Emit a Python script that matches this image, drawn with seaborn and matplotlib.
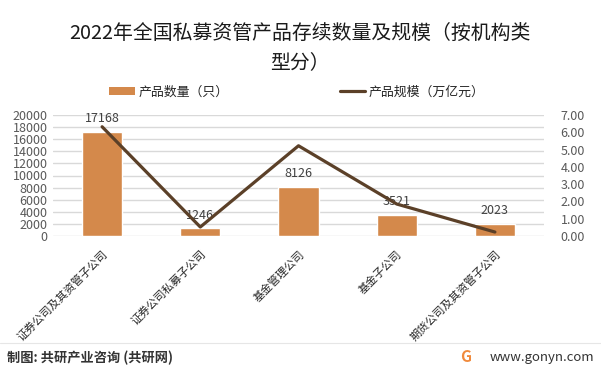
import matplotlib
matplotlib.use("Agg")
import matplotlib.pyplot as plt
import seaborn as sns
import pandas as pd
from matplotlib.lines import Line2D
from matplotlib.patches import Patch

categories = ["证券公司及其资管子公司", "证券公司私募子公司", "基金管理公司", "基金子公司", "期货公司及其资管子公司"]
counts = [17168, 1246, 8126, 3521, 2023]
scale = [6.32, 0.52, 5.22, 1.85, 0.23]
left_ticks = [0, 2000, 4000, 6000, 8000, 10000, 12000, 14000, 16000, 18000, 20000]
right_ticks = [0, 1, 2, 3, 4, 5, 6, 7]

sns.set_theme(style="white")
plt.rcParams["font.family"] = ["Noto Sans CJK SC", "DejaVu Sans"]

df = pd.DataFrame({"cat": categories, "count": counts, "scale": scale})

bar_color = "#D4894B"
line_color = "#5B4028"
text_color = "#404040"
tick_color = "#595959"

fig = plt.figure(figsize=(6.01, 3.75), dpi=100)
ax = fig.add_axes([53/601, 1-236/375, (544-53)/601, (236-115)/375])

sns.barplot(data=df, x="cat", y="count", color=bar_color, width=0.41, ax=ax, saturation=1)
ax.set_ylim(0, 20000)
ax.set_xlim(-0.5, len(categories)-0.5)
ax.set_yticks(left_ticks)
ax.set_yticklabels([str(t) for t in left_ticks], fontsize=9, color=tick_color)
ax.yaxis.grid(True, color="#D9D9D9", linewidth=1)
ax.set_axisbelow(True)
ax.set_xlabel("")
ax.set_ylabel("")
ax.tick_params(axis="y", length=0, pad=4)
ax.tick_params(axis="x", length=0, pad=9)
ax.set_xticks(range(len(categories)))
ax.set_xticklabels(categories, rotation=45, ha="right", rotation_mode="anchor",
                   fontsize=8, color="#262626")
for s in ax.spines.values():
    s.set_visible(False)

for i, v in enumerate(counts):
    ax.annotate(str(v), (i, v), xytext=(0, 5), textcoords="offset points",
                ha="center", va="bottom", fontsize=9, color=text_color)

ax2 = ax.twinx()
sns.lineplot(data=df, x="cat", y="scale", color=line_color, linewidth=2.3, ax=ax2, sort=False)
ax2.set_ylim(0, 7)
ax2.set_yticks(right_ticks)
ax2.set_yticklabels([f"{t:.2f}" for t in right_ticks], fontsize=9, color=tick_color)
ax2.set_ylabel("")
ax2.tick_params(axis="y", length=0, pad=12)
for s in ax2.spines.values():
    s.set_visible(False)
ax2.grid(False)

fig.text(300/601, 1-33/375, "2022年全国私募资管产品存续数量及规模（按机构类", ha="center", va="center",
         fontsize=14.3, color="#1a1a1a")
fig.text(300/601, 1-63/375, "型分）", ha="center", va="center", fontsize=14.3, color="#1a1a1a")

handles = [Patch(facecolor=bar_color, edgecolor="none"),
           Line2D([0], [0], color=line_color, linewidth=2.3)]
leg = fig.legend(handles, ["产品数量（只）", "产品规模（万亿元）"], loc="center",
                 bbox_to_anchor=(297/601, 1-92/375), ncol=2, frameon=False,
                 fontsize=9.3, handlelength=2.0, handleheight=0.55, columnspacing=8.6,
                 handletextpad=0.25)
for t in leg.get_texts():
    t.set_color("#262626")

fig.add_artist(Line2D([0.0, 1.0], [1-343/375, 1-343/375], color="#E6E6E6", linewidth=0.8))
fig.text(7/601, 1-358/375, "制图: 共研产业咨询 (共研网)", ha="left", va="center",
         fontsize=9.5, color="#333333", fontweight="bold")
fig.text(594/601, 1-357/375, "www.gonyn.com", ha="right", va="center",
         fontsize=9.5, color="#333333")
fig.text(466/601, 1-357/375, "G", ha="center", va="center", fontsize=11,
         color="#F08A3C", fontweight="bold")

fig.savefig("out.png", dpi=100)
